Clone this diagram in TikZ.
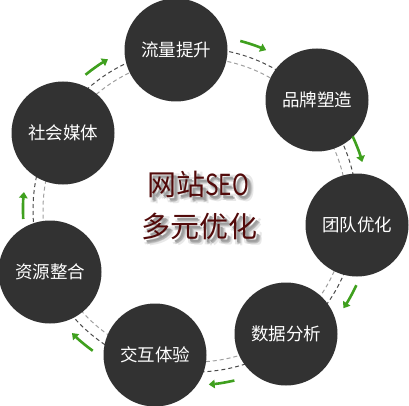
\documentclass[tikz,border=0pt]{standalone}
\usepackage{fontspec}
\setmainfont{Noto Sans CJK SC}
\newfontfamily\titlefont{Noto Sans CJK SC}
\newfontfamily\seofont[FakeStretch=0.78]{Noto Sans CJK SC}
\usetikzlibrary{arrows.meta}
\definecolor{discfill}{HTML}{323232}
\definecolor{ringdark}{HTML}{4A4A4A}
\definecolor{ringlight}{HTML}{A0A0A0}
\definecolor{arrowgreen}{HTML}{3FA01E}
\definecolor{titlered}{HTML}{520A0A}
\newcommand\shadowcopy[4]{\makebox[0pt][l]{\hspace{#1pt}\raisebox{-#2pt}{\textcolor{black!#3}{#4}}}}
\newcommand\softshadowtext[1]{%
  \shadowcopy{6}{6}{9}{#1}\shadowcopy{1}{5}{9}{#1}\shadowcopy{6}{1}{9}{#1}%
  \shadowcopy{5}{4}{18}{#1}\shadowcopy{3}{5}{18}{#1}%
  \shadowcopy{4}{4}{30}{#1}\shadowcopy{3}{3}{38}{#1}%
  \textcolor{titlered}{#1}}
\begin{document}
\begin{tikzpicture}[x=1pt,y=-1pt,
  disc/.style={circle,fill=discfill,minimum size=103pt,inner sep=0pt,text=white,
    font=\fontsize{17.5}{20}\selectfont},
  ringd/.style={draw=ringdark,line width=1pt,dash pattern=on 4pt off 3pt},
  ringl/.style={draw=ringlight,line width=1pt,dash pattern=on 4pt off 3pt},
  flow/.style={draw=arrowgreen,line width=2.6pt,-{Triangle[length=6pt,width=8.5pt]}},
  titletext/.style={inner sep=0pt,anchor=base west,font=\titlefont\fontsize{29}{32}\selectfont}]
\useasboundingbox (0,0) rectangle (409,406);
\clip (0,0) rectangle (409,406);
\coordinate (o) at (195,210);
\draw[ringd] (o) circle[radius=162];
\draw[ringl] (o) circle[radius=152];
\node[disc] (n1) at (176,50) {流量提升};
\node[disc] (n2) at (317,100) {品牌塑造};
\node[disc] (n3) at (357,225) {团队优化};
\node[disc] (n4) at (286,334) {数据分析};
\node[disc] (n5) at (155,355) {交互体验};
\node[disc] (n6) at (50,272) {资源整合};
\node[disc] (n7) at (63,133) {社会媒体};
% green flow arrows
\draw[flow] ([shift={(-75:175)}]o) arc[start angle=-75,end angle=-66,radius=175];
\draw[flow] ([shift={(-25:174)}]o) arc[start angle=-25,end angle=-16,radius=174];
\draw[flow] ([shift={(25:178)}]o) arc[start angle=25,end angle=33.5,radius=178];
\draw[flow] ([shift={(77:175)}]o) arc[start angle=77,end angle=85.5,radius=175];
\draw[flow] ([shift={(126:174)}]o) arc[start angle=126,end angle=135,radius=174];
\draw[flow] ([shift={(177:172)}]o) arc[start angle=177,end angle=186,radius=172];
\draw[flow] ([shift={(-129:174)}]o) arc[start angle=-129,end angle=-120,radius=174];
% title with soft shadow
\node[titletext] (title1) at (147,195) {\softshadowtext{网站{\seofont SEO}}};
\node[titletext] (title2) at (141,237.5) {\softshadowtext{多元优化}};
\end{tikzpicture}
\end{document}
